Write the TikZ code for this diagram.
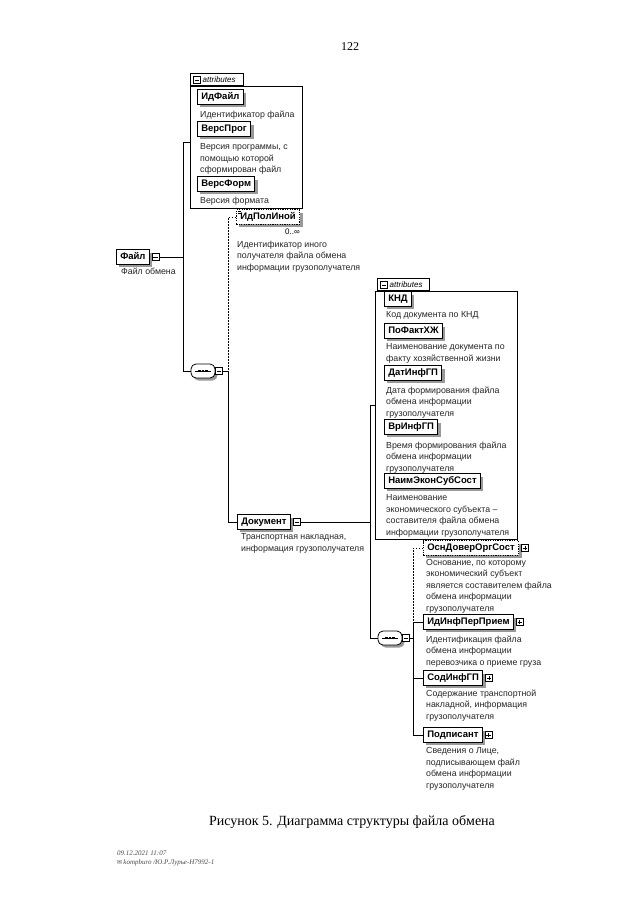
\documentclass[tikz,border=0pt]{standalone}
\usepackage{fontspec}
\setmainfont{Liberation Serif}
\newfontfamily\arialf{Liberation Sans}
\newfontfamily\dejaf{DejaVu Sans}
\begin{document}
\begin{tikzpicture}[x=1pt,y=-1pt,
  every node/.style={inner sep=0pt},
  boxshadow/.style={preaction={fill=black!40, draw=none, transform canvas={shift={(#1,-#1)}}}},
  elem/.style={draw, fill=white, line width=0.9pt, anchor=west,
    font=\arialf\bfseries\fontsize{9.5}{11}\selectfont,
    inner xsep=3.8pt, text height=7.1pt, text depth=1.8pt, minimum height=14.5pt,
    boxshadow=3pt},
  optelem/.style={elem, dash pattern=on 1.2pt off 1.2pt},
  desc/.style={anchor=north west, align=left, text=black!85,
    font=\arialf\fontsize{8.8}{11.5}\selectfont},
  pm/.style={draw, fill=white, minimum size=7pt, line width=0.6pt, anchor=west},
  minus/.style={pm, path picture={\draw[line width=0.6pt] ([xshift=1.4pt]path picture bounding box.west) -- ([xshift=-1.4pt]path picture bounding box.east);}},
  plus/.style={pm, path picture={\draw[line width=0.6pt] ([xshift=1.4pt]path picture bounding box.west) -- ([xshift=-1.4pt]path picture bounding box.east); \draw[line width=0.6pt] ([yshift=1.4pt]path picture bounding box.south) -- ([yshift=-1.4pt]path picture bounding box.north);}},
  conn/.style={line width=0.7pt},
  optconn/.style={line width=0.7pt, dash pattern=on 1.5pt off 1.5pt},
  seq/.style={draw, fill=white, rounded corners=5pt, minimum width=24pt, minimum height=14pt, line width=0.8pt,
    boxshadow=2.5pt},
  dot/.style={rectangle, fill=black, minimum width=2.6pt, minimum height=2.6pt},
  attbox/.style={draw, line width=0.7pt, anchor=north west},
  tabbox/.style={draw, fill=white, line width=0.7pt, anchor=south west, minimum height=12pt},
  tabtxt/.style={anchor=west, font=\arialf\itshape\fontsize{8}{9}\selectfont},
  pagetxt/.style={font=\fontsize{12}{14}\selectfont},
  captxt/.style={font=\fontsize{14}{16}\selectfont},
  foottxt/.style={anchor=north west, align=left, text=black!70, font=\itshape\fontsize{7}{9}\selectfont}
]
\fill[white] (0,0) rectangle (640,905);
\useasboundingbox (0,0) rectangle (640,905);

\node[pagetxt] (page) at (350,47) {122};

% ---------- top attributes ----------
\node[attbox, minimum width=112pt, minimum height=122pt] (att1) at (190,86) {};
\node[tabbox, minimum width=53pt] (tab1) at (190,86) {};
\node[minus] (tab1m) at (193,80) {};
\node[tabtxt] (tab1t) at (202.5,80) {attributes};

\node[elem] (idf) at (197,97) {ИдФайл};
\node[desc] (idfd) at (200,110.5) {Идентификатор файла};
\node[elem] (vp) at (197,129) {ВерсПрог};
\node[desc] (vpd) at (200,143.5) {Версия программы, с\\помощью которой\\сформирован файл};
\node[elem] (vf) at (197,184) {ВерсФорм};
\node[desc] (vfd) at (200,196.5) {Версия формата};

% ---------- optional ИдПолИной ----------
\node[optelem] (ip) at (236,217) {ИдПолИной};
\draw[line width=0.5pt] (237.5,211.5) -- (240.5,211.5) (237.5,213.3) -- (240.5,213.3);
\node[anchor=north east, font=\arialf\fontsize{8}{10}\selectfont] (ipn) at ([yshift=-4pt]ip.south east) {0..∞};
\node[desc] (ipd) at (237,240.5) {Идентификатор иного\\получателя файла обмена\\информации грузополучателя};

% ---------- root Файл ----------
\node[elem] (fl) at (116,257) {Файл};
\node[minus] (flm) at ([xshift=2pt]fl.east) {};
\node[desc] (fld) at (121,267.5) {Файл обмена};

% ---------- sequence 1 ----------
\node[seq] (seq1) at (203,371) {};
\draw[line width=0.7pt] ([xshift=4pt]seq1.west) -- ([xshift=-4pt]seq1.east);
\node[dot] (s1a) at ([xshift=-3.5pt]seq1.center) {};
\node[dot] (s1b) at (seq1.center) {};
\node[dot] (s1c) at ([xshift=3.5pt]seq1.center) {};
\node[minus] (seq1m) at (seq1.east) {};

\coordinate (vl1) at (183,142);
\coordinate (r1) at (228,371);
\draw[conn] (att1.west |- vl1) -- (vl1) |- (seq1.west);
\draw[conn] (flm.east) -- (flm.east -| vl1);
\draw[conn] (seq1m.east) -- (r1);
\draw[optconn] (ip.west) -| (r1);

% ---------- Документ ----------
\node[elem] (doc) at (237,522) {Документ};
\node[minus] (docm) at ([xshift=2pt]doc.east) {};
\node[desc] (docd) at (241,533.5) {Транспортная накладная,\\информация грузополучателя};
\draw[conn] (r1) |- (doc.west);

% ---------- second attributes ----------
\node[attbox, minimum width=142pt, minimum height=248pt] (att2) at (375,291) {};
\node[tabbox, minimum width=52pt] (tab2) at (377,291) {};
\node[minus] (tab2m) at (380,285) {};
\node[tabtxt] (tab2t) at (389.5,285) {attributes};

\node[elem] (knd) at (384,299) {КНД};
\node[desc] (kndd) at (386,311.5) {Код документа по КНД};
\node[elem] (pf) at (384,331) {ПоФактХЖ};
\node[desc] (pfd) at (386,343.5) {Наименование документа по\\факту хозяйственной жизни};
\node[elem] (dat) at (384,373) {ДатИнфГП};
\node[desc] (datd) at (386,386.5) {Дата формирования файла\\обмена информации\\грузополучателя};
\node[elem] (vr) at (384,427) {ВрИнфГП};
\node[desc] (vrd) at (386,441.5) {Время формирования файла\\обмена информации\\грузополучателя};
\node[elem] (nm) at (384,481) {НаимЭконСубСост};
\node[desc] (nmd) at (386,494.5) {Наименование\\экономического субъекта –\\составителя файла обмена\\информации грузополучателя};

% ---------- sequence 2 ----------
\node[seq] (seq2) at (390,638) {};
\draw[line width=0.7pt] ([xshift=4pt]seq2.west) -- ([xshift=-4pt]seq2.east);
\node[dot] (s2a) at ([xshift=-3.5pt]seq2.center) {};
\node[dot] (s2b) at (seq2.center) {};
\node[dot] (s2c) at ([xshift=3.5pt]seq2.center) {};
\node[minus] (seq2m) at (seq2.east) {};

\coordinate (vl2) at (370,405);
\coordinate (r2) at (413,638);
\draw[conn] (att2.west |- vl2) -- (vl2) |- (seq2.west);
\draw[conn] (docm.east) -- (docm.east -| vl2);
\draw[conn] (seq2m.east) -- (r2);

\node[optelem] (osn) at (423,548) {ОснДоверОргСост};
\node[plus] (osnp) at ([xshift=2pt]osn.east) {};
\node[desc] (osnd) at (426,559) {Основание, по которому\\экономический субъект\\является составителем файла\\обмена информации\\грузополучателя};
\node[elem] (idi) at (423,622) {ИдИнфПерПрием};
\node[plus] (idip) at ([xshift=2pt]idi.east) {};
\node[desc] (idid) at (426,635.5) {Идентификация файла\\обмена информации\\перевозчика о приеме груза};
\node[elem] (sod) at (423,678) {СодИнфГП};
\node[plus] (sodp) at ([xshift=2pt]sod.east) {};
\node[desc] (sodd) at (426,689.5) {Содержание транспортной\\накладной, информация\\грузополучателя};
\node[elem] (pod) at (423,735) {Подписант};
\node[plus] (podp) at ([xshift=2pt]pod.east) {};
\node[desc] (podd) at (426,747.5) {Сведения о Лице,\\подписывающем файл\\обмена информации\\грузополучателя};

\draw[optconn] (osn.west) -| (r2);
\draw[conn] (idi.west) -| (r2);
\draw[conn] (r2) |- (sod.west);
\draw[conn] (r2) |- (pod.west);

% ---------- caption & footer ----------
\node[captxt] (cap) at (352,822) {Рисунок 5. Диаграмма структуры файла обмена};
\node[foottxt] (foot) at (117,851) {09.12.2021 11:07\\{\dejaf\upshape\fontsize{6}{9}\selectfont ✉}\,kompburo /Ю.Р.Лурье-Н7992-1};
\end{tikzpicture}
\end{document}
